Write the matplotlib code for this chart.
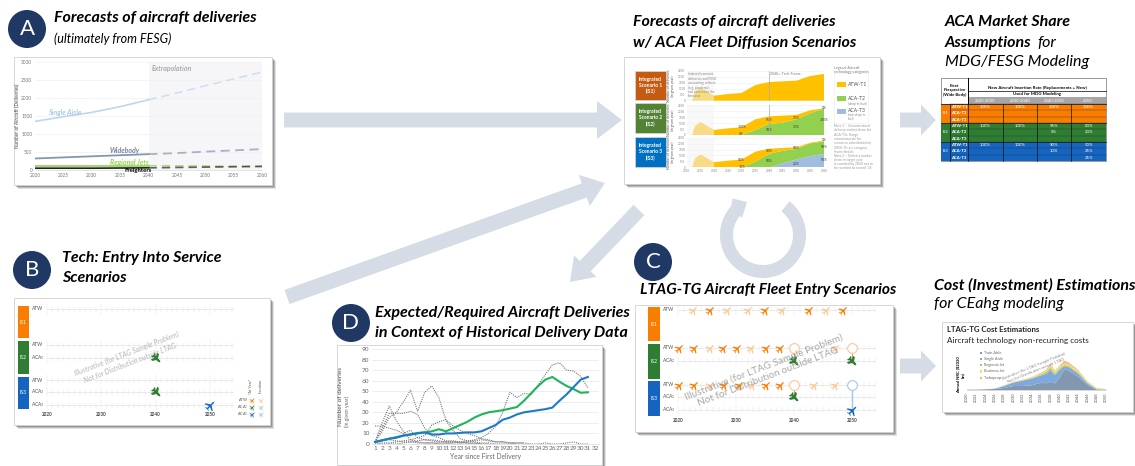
import matplotlib
matplotlib.use("Agg")
import matplotlib.pyplot as plt
from matplotlib.patches import Circle, Polygon, Rectangle, Wedge
from matplotlib.path import Path
import numpy as np

plt.rcParams["font.family"] = ["Lato", "DejaVu Sans"]
plt.rcParams["mathtext.default"] = "regular"

W, H = 1135, 466
NAVY = "#1f3864"
ARROW = "#d6dce5"
ORANGE, GREEN, BLUE = "#f97d00", "#2e7d32", "#1565c0"
LT_ORANGE, LT_GREEN, LT_BLUE = "#fbc896", "#a5d0a7", "#a3c6ee"

# Panel A: delivery forecast
fc_years = [2020, 2025, 2030, 2035, 2040]
ex_years = [2040, 2045, 2050, 2055, 2060]
single_fc = [1350, 1480, 1600, 1760, 1950]
single_ex = [1950, 2140, 2340, 2530, 2720]
wide_fc = [320, 350, 380, 410, 440]
wide_ex = [440, 470, 510, 545, 580]
regional_fc = [120, 120, 120, 120, 120]
regional_ex = [120, 115, 110, 105, 100]
freight_fc = [50, 50, 50, 55, 60]
freight_ex = [60, 70, 80, 90, 100]

# Middle panel: stacked deliveries per scenario
mid_years = [2012, 2013, 2015, 2020, 2025, 2030, 2035, 2040, 2045, 2050, 2055, 2060]
mid_total = [0, 750, 1100, 420, 560, 650, 1320, 1570, 1630, 1690, 2080, 2250]
is2_t2 = [0, 0, 0, 0, 0, 0, 420, 930, 1040, 1320, 1830, 2230]
is3_t2 = [0, 0, 0, 0, 0, 0, 480, 1120, 1400, 1550, 2020, 2190]
is3_t3 = [0, 0, 0, 0, 0, 0, 0, 0, 340, 670, 950, 1120]

# Market share table
table_years = ["2020-2030", "2030-2040", "2040-2050", "2050-"]
table_techs = ["ATW-T1", "ACA-T2", "ACA-T3"]
table_is1 = [["100%", "100%", "100%", "100%"], ["", "", "", ""], ["", "", "", ""]]
table_is2 = [["100%", "100%", "95%", "80%"], ["", "", "5%", "20%"], ["", "", "", ""]]
table_is3 = [["100%", "100%", "90%", "50%"], ["", "", "10%", "25%"], ["", "", "", "25%"]]

# Panel C: aircraft entry years on the ATW rows
is1_dark = [2025.5, 2035, 2042.5, 2048.5]
is1_light = [2022.5, 2028.5, 2032, 2038, 2045.5]
is2_dark = [2020.2, 2022.7, 2027.7, 2030.2, 2035.1, 2037.5]
is2_light = [2025.5, 2032.6, 2047]
is3_dark = [2020.2, 2022.7, 2027.9, 2030.5, 2035.1, 2037.6]
is3_light = [2025.5, 2032.8, 2043.4, 2047]

# Panel D: historical programmes (dotted) and required deliveries
hist_years = list(range(1, 32))
hist_a = [2, 3, 4, 3, 2, 2, 1, 1, 1, 1, 1, 1, 1, 2, 4, 6, 10, 17, 30, 49, 44, 48, 47, 56, 66, 75, 77, 70, 69, 64, 53]
hist_b = [2, 12, 25, 30, 40, 51, 31, 49, 55, 44, 22, 13, 5, 3, 2, 1, 1, 0, 0, 0, 0]
hist_c = [2, 20, 36, 22, 12, 4, 2, 1, 1, 0, 0, 0]
hist_d = [2, 15, 29, 29, 29, 31, 28, 15, 8, 6, 3, 3, 2, 1, 0, 0]
hist_e = [17, 17, 15, 13, 10, 13, 6, 4, 3, 2, 2, 2, 1, 1, 1, 0, 0]
hist_f = [1, 1, 1, 2, 3, 4, 6, 8, 18, 21, 23, 17, 13, 10, 8, 5, 4, 2, 2, 1, 1, 1]
hist_g = [0, 0, 0, 0, 1, 2, 3, 4, 4, 3, 2, 2, 2, 3, 3, 4, 3, 2, 2, 1, 1, 1, 0, 0, 1, 0, 0, 1, 2, 0, 0]
req_green = [2, 3.5, 5, 6.5, 8, 9, 10.5, 11, 12, 14, 12, 15, 18, 21, 25, 28, 30, 31, 32, 33.5, 35, 41, 48, 55, 61, 63.5, 59, 55, 52, 48.5, 49]
req_blue = [2, 3.5, 5, 6, 8, 9, 10, 11, 9, 9, 10, 10, 10.5, 11, 11, 12, 15, 18, 23, 25, 28, 30, 31, 32, 33, 34.5, 41, 47, 54, 61, 63.5]

# Cost panel: stacked non-recurring cost
cost_years = [2020, 2022, 2024, 2026, 2028, 2030, 2032, 2034, 2036, 2037, 2038, 2039, 2040, 2041, 2042, 2044, 2046, 2048, 2050]
cost_twin = [1, 1, 2, 3, 6, 12, 12, 14, 22, 20, 25, 20, 38, 62, 58, 40, 15, 1, 1]
cost_single = [0, 0, 0, 1, 6, 10, 16, 20, 22, 28, 34, 24, 22, 9, 10, 9, 5, 1, 0]
cost_regional = [0, 0, 0, 0, 1, 1, 1, 2, 3, 5, 8, 6, 5, 4, 4, 3, 2, 1, 1]
cost_business = [0, 0, 0, 0, 1, 1, 1, 2, 3, 4, 7, 5, 5, 6, 5, 5, 3, 2, 1]
cost_turboprop = [0, 0, 0, 0, 0, 1, 1, 1, 2, 3, 4, 3, 3, 7, 5, 3, 1, 1, 0]
cost_labels = ["Twin Aisle", "Single Aisle", "Regional Jet", "Business Jet", "Turboprop"]
cost_colors = ["#8497b0", "#7fa9dc", "#9dcc7a", "#ffd966", "#f4b183"]

# Aircraft silhouette pointing along +x, used as a marker
PLANE_OUTLINE = np.array([
    (1, 0), (0.7, 0.13), (0.15, 0.13), (-0.35, 0.9), (-0.58, 0.9), (-0.25, 0.13), (-0.7, 0.13), (-0.9, 0.42),
    (-1, 0.42), (-0.85, 0), (-1, -0.42), (-0.9, -0.42), (-0.7, -0.13), (-0.25, -0.13), (-0.58, -0.9),
    (-0.35, -0.9), (0.15, -0.13), (0.7, -0.13), (1, 0),
])


def plane_marker(deg):
    a = np.deg2rad(deg)
    rot = np.array([[np.cos(a), -np.sin(a)], [np.sin(a), np.cos(a)]])
    return Path(PLANE_OUTLINE @ rot.T, closed=True)


PLANE_UP = plane_marker(45)
PLANE_DOWN = plane_marker(-45)

fig = plt.figure(figsize=(W / 100, H / 100), dpi=100)

# Page-level axes in pixel units, y pointing down
page = fig.add_axes([0, 0, 1, 1])
page.set_xlim(0, W)
page.set_ylim(H, 0)
page.axis("off")


def px_axes(x0, y0, x1, y1):
    ax = fig.add_axes([x0 / W, 1 - y1 / H, (x1 - x0) / W, (y1 - y0) / H], zorder=3)
    ax.patch.set_alpha(0)
    return ax


def card(x0, y0, x1, y1):
    for off, alpha in ((4, 0.18), (3, 0.3), (2, 0.4)):
        page.add_patch(Rectangle((x0 + off, y0 + off), x1 - x0, y1 - y0, fc="#606060", ec="none", alpha=alpha, zorder=1))
    page.add_patch(Rectangle((x0, y0), x1 - x0, y1 - y0, fc="white", ec="#d0d0d0", lw=0.6, zorder=2))


def badge(x, y, letter):
    page.add_patch(Circle((x, y), 19, fc=NAVY, ec="none", zorder=2))
    page.text(x, y, letter, color="white", fontsize=16, ha="center", va="center", zorder=3)


def block_arrow(x0, y0, x1, y1, width, head_width, head_len):
    d = np.array([x1 - x0, y1 - y0], dtype=float)
    length = np.hypot(*d)
    u = d / length
    n = np.array([-u[1], u[0]])
    start = np.array([x0, y0])
    neck = start + u * (length - head_len)
    pts = [start + n * width / 2, neck + n * width / 2, neck + n * head_width / 2, (x1, y1),
           neck - n * head_width / 2, neck - n * width / 2, start - n * width / 2]
    page.add_patch(Polygon(pts, closed=True, fc=ARROW, ec="none", zorder=1))


def title(x, y, txt, bold=True, size=11.5):
    page.text(x, y, txt, fontsize=size, style="italic", fontweight="bold" if bold else "normal",
              color="black", va="center", ha="left", zorder=5)


# Block arrows and the iteration ring
block_arrow(284, 120, 622, 120, 15, 38, 25)
block_arrow(287, 297, 605, 183, 15, 33, 22)
block_arrow(639, 210, 570, 282, 15, 31, 22)
block_arrow(900, 120, 936, 120, 15, 31, 15)
block_arrow(900, 366, 936, 366, 15, 31, 15)
page.add_patch(Wedge((763, 235), 43, -52, 224, width=13, fc=ARROW, ec="none", zorder=1))
page.add_patch(Polygon([(732.5, 198.5), (747, 202), (742, 218), (731, 207)], closed=True, fc=ARROW, ec="none", zorder=1))

# Headings
badge(27, 29, "A")
title(54, 18, "Forecasts of aircraft deliveries")
title(54, 39, "(ultimately from FESG)", bold=False, size=9)
title(633, 22, "Forecasts of aircraft deliveries")
title(633, 43, "w/ ACA Fleet Diffusion Scenarios")
title(945, 22, "ACA Market Share")
title(945, 43, "Assumptions")
title(1037, 43, "for", bold=False)
title(945, 62, "MDG/FESG Modeling", bold=False)
badge(32, 270, "B")
title(62, 258, "Tech: Entry Into Service")
title(62, 278, "Scenarios")
badge(351, 323, "D")
title(375, 313, "Expected/Required Aircraft Deliveries")
title(375, 333, "in Context of Historical Delivery Data")
badge(653, 262, "C")
title(640, 290, "LTAG-TG Aircraft Fleet Entry Scenarios", size=11.2)
title(934, 285, "Cost (Investment) Estimations")
title(934, 304, "for CEahg modeling", bold=False)

card(14, 57, 272, 185)
card(624, 57, 880, 184)
card(14, 298, 270, 425)
card(337, 345, 602, 465)
card(635, 305, 893, 432)
card(942, 322, 1133, 412)

# Panel A chart
ax = px_axes(35, 62, 262, 170)
ax.set_xlim(2020, 2060)
ax.set_ylim(0, 3000)
ax.axvspan(2040, 2060, color="#f6f6f8", lw=0, zorder=0)
ax.grid(axis="y", color="#f0f0f0", lw=0.5)
ax.set_axisbelow(True)
for fc_vals, ex_vals, col, lw in ((single_fc, single_ex, "#bdd7ee", 1.2),
                                  (wide_fc, wide_ex, "#8497b0", 1.3),
                                  (regional_fc, regional_ex, "#92d050", 1.2),
                                  (freight_fc, freight_ex, "#222222", 1.2)):
    ax.plot(fc_years, fc_vals, color=col, lw=lw)
    ax.plot(ex_years, ex_vals, color=col, lw=lw, ls=(0, (5, 3)), alpha=0.7)
ax.set_xticks(range(2020, 2061, 5))
ax.set_yticks(range(0, 3001, 500))
ax.tick_params(length=0, labelsize=3.4, labelcolor="#777777", pad=2)
for s in ax.spines.values():
    s.set_visible(False)
ax.spines["bottom"].set_visible(True)
ax.spines["bottom"].set_color("#d9d9d9")
ax.spines["bottom"].set_linewidth(0.5)
ax.set_ylabel("Number of Aircraft (Deliveries)", fontsize=3.4, color="#444444", labelpad=1)
label_kw = dict(fontsize=5, style="italic", fontweight="bold", va="center")
ax.text(2022.3, 1610, "Single Aisle", color="#a9c9e8", **label_kw)
ax.text(2033.2, 530, "Widebody", color="#7486a3", **label_kw)
ax.text(2033.2, 220, "Regional Jets", color="#92d050", **label_kw)
ax.text(2035.7, -10, "Freighters", color="black", fontsize=4.3, fontweight="bold", va="center")
ax.text(2040.5, 2830, "Extrapolation", color="#aaaaaa", **label_kw)

# Middle panel: scenario boxes and stacked charts
box_spans = [(71, 100), (103, 133), (137, 167)]
box_cols = ["#c55a11", "#548235", "#0070c0"]
for i, (span, col) in enumerate(zip(box_spans, box_cols)):
    page.add_patch(Rectangle((635, span[0]), 31, span[1] - span[0], fc=col, ec="#d9d9d9", lw=0.5, zorder=3))
    page.text(650.5, sum(span) / 2, f"Integrated\nScenario {i + 1}\n(IS{i + 1})", color="white",
              fontsize=3.6, fontweight="bold", ha="center", va="center", zorder=4, linespacing=1.25)

total = np.array(mid_total)
stacks = [
    ([total], ["#ffc000"]),
    ([np.array(is2_t2), total - np.array(is2_t2)], ["#92d050", "#ffc000"]),
    ([np.array(is3_t3), np.array(is3_t2) - np.array(is3_t3), total - np.array(is3_t2)],
     ["#a0bde0", "#92d050", "#ffc000"]),
]
mid_spans = [(71, 100.7), (105.3, 135), (137.7, 167.3)]
pct_labels = [
    [],
    [(2030, 650, "100%"), (2030, 60, "5%"), (2040, 1250, "95%"), (2040, 430, "50%"), (2050, 1470, "75%"), (2050, 650, "75%"), (2060, 2300, "5%"), (2060, 1300, "100%")],
    [(2030, 650, "90%"), (2030, 60, "10%"), (2040, 1350, "90%"), (2040, 500, "50%"), (2050, 1600, "50%"), (2050, 300, "25%"), (2060, 2300, "5%"), (2060, 1700, "50%"), (2060, 600, "50%")],
]
for i, ((layers, cols), span) in enumerate(zip(stacks, mid_spans)):
    ax = px_axes(686.7, span[0], 824, span[1])
    ax.set_xlim(2010, 2060)
    ax.set_ylim(0, 2500)
    ax.stackplot(mid_years, *layers, colors=cols, lw=0, zorder=2)
    ax.axvspan(2010, 2020, color="#f4f4f4", alpha=0.55, lw=0, zorder=3)
    ax.grid(axis="y", color="#eeeeee", lw=0.4)
    ax.set_axisbelow(True)
    ax.set_yticks(range(0, 2501, 500))
    ax.set_xticks(range(2010, 2061, 5))
    ax.tick_params(length=0, labelsize=2.2, labelcolor="#888888", pad=1)
    if i < 2:
        ax.set_xticklabels([])
    for s in ax.spines.values():
        s.set_visible(False)
    ax.set_ylabel("Number of deliveries\n(in given year)", fontsize=2.5, color="#555555", linespacing=1)
    ax.yaxis.set_label_coords(-0.085, 0.5)
    for yr, val, txt in pct_labels[i]:
        ax.text(yr, val, txt, fontsize=2.4, ha="center", va="center", color="#333333", zorder=4)
    if i < 2:
        ax.axvline(2040, color="#aaaaaa", lw=0.5, zorder=4)
    if i == 0:
        ax.text(2040.5, 2400, "2040+: Tech. Freeze", fontsize=2.4, color="#777777", va="top", zorder=4)
        ax.text(2010.5, 2400, "Indexed transient\ndeliveries and FESG\naccounting reflects\n(e.g. pandemic)\nnot covered in the\nforecasts", fontsize=2.3,
                color="#888888", va="top", zorder=4, linespacing=1.15)

# Middle panel legend and notes
page.add_patch(Rectangle((834, 73), 34, 50, fc="white", ec="#f0f0f0", lw=0.5, zorder=3))
page.text(834, 70, "Legend: Aircraft\ntechnology categories", fontsize=2.6, color="#777777", va="center", zorder=4, linespacing=1.1)
for y, col, name, sub in ((84, "#ffc000", "ATW-T1", ""), (98, "#92d050", "ACA-T2", "(drop-in fuel)"),
                          (111, "#a0bde0", "ACA-T3", "(non-drop-in\nfuel)")):
    page.add_patch(Rectangle((837, y - 2.5), 9, 5, fc=col, ec="none", zorder=4))
    page.text(848, y, name, fontsize=3.6, color="#555555", va="center", zorder=4)
    if sub:
        page.text(848, y + 5.5, sub, fontsize=2.3, color="#888888", va="center", zorder=4, linespacing=1)
page.text(834, 139, "Note 1 – Unconstrained\ndelivery market share for\nACA-T3s. Range\ncommensurate for\nscenarios substitution by\n2050. Fit a/c category\nshares/details",
          fontsize=2.4, color="#999999", va="center", zorder=4, linespacing=1.1)
page.text(834, 162, "Note 2 – Delivery market\nshare in target year\nis rounded by 2050 not to\nbe rounded to exceed 1%", fontsize=2.4,
          color="#999999", va="center", zorder=4, linespacing=1.1)

# Market share table, drawn on the page grid
col_x = [941, 950, 968, 1003, 1037, 1071, 1106]
head_y = [78, 90, 97, 104]
row_h = 6.33
page.add_patch(Rectangle((col_x[0], head_y[0]), col_x[-1] - col_x[0], 83, fc="white", ec="#888888", lw=0.6, zorder=2))
page.add_patch(Rectangle((col_x[2], head_y[2]), col_x[-1] - col_x[2], head_y[3] - head_y[2], fc="#a6a6a6", ec="none", zorder=3))
page.plot([col_x[2], col_x[-1]], [head_y[1] + 1, head_y[1] + 1], color="black", lw=0.5, zorder=4)
page.plot([col_x[2], col_x[2]], [head_y[0], head_y[3]], color="black", lw=0.7, zorder=4)
page.text((col_x[0] + col_x[2]) / 2, 90.5, "Fleet\nPerspective\n(Wide Body)", fontsize=3.1, fontweight="bold", ha="center", va="center", zorder=4, linespacing=1.3)
page.text((col_x[2] + col_x[-1]) / 2, 88, "New Aircraft Insertion Rate (Replacements + New)", fontsize=3.2, fontweight="bold", ha="center", va="center", zorder=4)
page.text((col_x[2] + col_x[-1]) / 2, 94.5, "Used for MDG Modeling", fontsize=3.2, fontweight="bold", ha="center", va="center", zorder=4)
for j, yr in enumerate(table_years):
    page.text((col_x[j + 2] + col_x[j + 3]) / 2, 100.5, yr, fontsize=3, color="white", ha="center", va="center", zorder=4)
for k, (rows, col, name) in enumerate(((table_is1, ORANGE, "IS1"), (table_is2, GREEN, "IS2"), (table_is3, BLUE, "IS3"))):
    top = head_y[3] + 3 * row_h * k
    page.add_patch(Rectangle((col_x[0], top), col_x[-1] - col_x[0], 3 * row_h, fc=col, ec="none", zorder=3))
    page.text((col_x[0] + col_x[1]) / 2, top + 1.5 * row_h, name, fontsize=3, color="white", ha="center", va="center", zorder=4)
    for r in range(3):
        y = top + row_h * (r + 0.5)
        page.text((col_x[1] + col_x[2]) / 2, y, table_techs[r], fontsize=3.1, color="white", fontweight="bold", ha="center", va="center", zorder=4)
        for j, val in enumerate(rows[r]):
            page.text((col_x[j + 2] + col_x[j + 3]) / 2, y, val, fontsize=3.1, color="white", ha="center", va="center", zorder=4)
        page.plot([col_x[1], col_x[-1]], [top + row_h * r] * 2, color="#222222", lw=0.35, alpha=0.6, zorder=4)
    page.plot([col_x[0], col_x[-1]], [top, top], color="#222222", lw=0.6, zorder=4)
for x in col_x[1:-1]:
    page.plot([x, x], [head_y[3], 161], color="#111111", lw=0.5, zorder=4)


def plane(ax, yr, y, col, size=7.5, shape=PLANE_UP, edge=0.0):
    ax.plot(yr, y, marker=shape, ms=size, mfc=col, mec=col, mew=edge, ls="none", zorder=5)


def timeline_axes(x2020, x2050, x_right, y0, y1, rows, labels):
    per_year = (x2050 - x2020) / 30
    x0 = x2020 - 6
    ax = px_axes(x0, y0, x_right, y1)
    ax.set_xlim(2020 - 6 / per_year, 2020 + (x_right - x2020) / per_year)
    ax.set_ylim(y1, y0)
    ax.axis("off")
    for y, lab in zip(rows, labels):
        ax.plot([2020, ax.get_xlim()[1]], [y, y], color="#e3e3e3", lw=0.5, zorder=1)
        for yr in np.arange(2020, ax.get_xlim()[1], 1):
            tall = 5 if yr % 10 == 0 else 2.5
            ax.plot([yr, yr], [y - tall, y + tall], color="#e3e3e3", lw=0.35, zorder=1)
        ax.text(2020 - 9 / per_year, y, lab, fontsize=3.5, color="#555555", va="center", ha="center")
    for yr in (2020, 2030, 2040, 2050):
        ax.text(yr, y1 - 5, str(yr), fontsize=3.3, fontweight="bold", color="#444444", ha="center", va="center")
    return ax


def scenario_bars(x0, x1, spans):
    for span, col, name in zip(spans, (ORANGE, GREEN, BLUE), ("IS1", "IS2", "IS3")):
        page.add_patch(Rectangle((x0, span[0]), x1 - x0, span[1] - span[0], fc=col, ec="none", zorder=3))
        page.text((x0 + x1) / 2, sum(span) / 2, name, fontsize=3.6, color="white", ha="center", va="center", zorder=4)


# Panel B timeline
scenario_bars(18, 29, [(306, 338), (341, 374), (377, 409)])
b_rows = [309, 345, 358, 380, 392, 405]
b_labels = ["ATW", "ATW", "ACA$_2$", "ATW", "ACA$_2$", "ACA$_3$"]
ax = timeline_axes(47, 210, 234, 300, 420, b_rows, b_labels)
plane(ax, 2040, b_rows[2], GREEN, size=7, shape=PLANE_DOWN, edge=0.8)
plane(ax, 2040, b_rows[4], GREEN, size=7, shape=PLANE_DOWN, edge=0.8)
plane(ax, 2050, b_rows[5], BLUE, size=8.5)
ax.text(2035, 358, "Illustrative (for LTAG Sample Problem)\nNot for Distribution outside LTAG", fontsize=5,
        color="#b5b5b5", rotation=21, ha="center", va="center", style="italic", linespacing=1.3)

# Panel B key
page.text(250.5, 386, "\"At Year\"", fontsize=2.7, color="#555555", rotation=90, ha="center", va="center", zorder=4)
page.text(261, 386, "Iteration", fontsize=2.7, color="#555555", rotation=90, ha="center", va="center", zorder=4)
key_y = [400, 407, 414]
for y, lab, dark, light in zip(key_y, ("ATW", "ACA$_2$", "ACA$_3$"), (ORANGE, GREEN, BLUE), (LT_ORANGE, LT_GREEN, LT_BLUE)):
    page.text(243, y, lab, fontsize=2.8, color="#555555", ha="center", va="center", zorder=4)
    for x, col in ((251.5, dark), (260.5, light)):
        plane(page, x, y, col, size=4.5)

# Panel C timeline
scenario_bars(648, 660, [(307, 341), (344, 379), (381, 416)])
c_rows = [310, 348, 361, 385, 397, 410]
ax = timeline_axes(678, 852, 876, 305, 426, c_rows, b_labels)
for yrs, col in ((is1_dark, ORANGE), (is1_light, LT_ORANGE)):
    for yr in yrs:
        plane(ax, yr, c_rows[0], col)
for yrs, col in ((is2_dark, ORANGE), (is2_light, LT_ORANGE)):
    for yr in yrs:
        plane(ax, yr, c_rows[1], col)
for yrs, col in ((is3_dark, ORANGE), (is3_light, LT_ORANGE)):
    for yr in yrs:
        plane(ax, yr, c_rows[3], col)
for row, yr, col in ((c_rows[1], 2040, LT_ORANGE), (c_rows[1], 2050, LT_ORANGE), (c_rows[3], 2040, LT_ORANGE), (c_rows[3], 2050, LT_BLUE)):
    ax.plot(yr, row, "o", ms=7, mfc="white", mec=col, mew=0.8, zorder=4)
for row_top, row_low, yr in ((c_rows[1], c_rows[2], 2040), (c_rows[1], c_rows[2], 2050), (c_rows[3], c_rows[4], 2040)):
    ax.plot([yr, yr], [row_top + 5, row_low - 3], color="#e58b5a", lw=0.7, zorder=3)
    plane(ax, yr, row_low, GREEN, size=7, shape=PLANE_DOWN, edge=0.8)
ax.plot([2050, 2050], [c_rows[3] + 5, c_rows[5]], color=LT_BLUE, lw=1, zorder=3)
plane(ax, 2050, c_rows[5], BLUE, size=8.5)
ax.text(2035.2, 372, "Illustrative (for LTAG Sample Problem)\nNot for Distribution outside LTAG", fontsize=7.2,
        color="#8c8c8c", alpha=0.75, rotation=21, ha="center", va="center", zorder=6, linespacing=1.2)

# Panel D chart
ax = px_axes(371.5, 349, 598.5, 444)
ax.set_xlim(0.5, 32.5)
ax.set_ylim(0, 90)
ax.grid(axis="y", color="#e8e8e8", lw=0.5)
ax.set_axisbelow(True)
for series in (hist_a, hist_b, hist_c, hist_d, hist_e, hist_f, hist_g):
    ax.plot(hist_years[:len(series)], series, color="#777777", lw=0.8, ls=(0, (1, 1)))
ax.plot(hist_years, req_green, color="#1fb35a", lw=1.5)
ax.plot(hist_years, req_blue, color="#1f78c8", lw=1.5)
ax.set_xticks(range(1, 33))
ax.set_yticks(range(0, 91, 10))
ax.tick_params(length=0, labelsize=4.6, labelcolor="#666666", pad=1.5)
for s in ax.spines.values():
    s.set_visible(False)
ax.spines["bottom"].set_visible(True)
ax.spines["bottom"].set_color("#d9d9d9")
ax.spines["bottom"].set_linewidth(0.5)
ax.set_xlabel("Year since First Delivery", fontsize=4.8, color="#666666", labelpad=1.5)
ax.set_ylabel("Number of deliveries", fontsize=4.6, color="#444444")
ax.yaxis.set_label_coords(-0.125, 0.5)
ax.text(-2.95, 31, "(in given year)", fontsize=3.6, color="#666666", rotation=90, ha="center", va="center", clip_on=False)

# Cost panel
page.text(947, 329, "LTAG-TG Cost Estimations", fontsize=5.6, fontweight="bold", color="#222222", va="center", zorder=4)
page.text(947, 340, "Aircraft technology non-recurring costs", fontsize=5.9, color="#222222", va="center", zorder=4)
ax = px_axes(967, 350, 1106, 390)
ax.set_xlim(2020, 2050)
ax.set_ylim(0, 120)
ax.stackplot(cost_years, cost_twin, cost_single, cost_regional, cost_business, cost_turboprop, colors=cost_colors, lw=0)
ax.set_xticks(range(2020, 2051, 2))
ax.set_xticklabels([str(y) for y in range(2020, 2051, 2)], rotation=90)
ax.set_yticks([])
ax.tick_params(length=0, labelsize=3, labelcolor="#555555", pad=1.5)
for s in ax.spines.values():
    s.set_visible(False)
ax.spines["bottom"].set_visible(True)
ax.spines["bottom"].set_color("#bbbbbb")
ax.spines["bottom"].set_linewidth(0.4)
page.text(960.5, 375, "Annual NRC ($2020\nbn)", fontsize=3, fontweight="bold", rotation=90, ha="center", va="center", zorder=4, linespacing=1.1)
for i, (lab, col) in enumerate(zip(cost_labels, cost_colors)):
    y = 352.5 + 6.3 * i
    page.add_patch(Rectangle((980, y - 1), 2.2, 2.2, fc=col, ec="none", zorder=4))
    page.text(983.5, y, lab, fontsize=2.8, color="#666666", va="center", zorder=4)
ax.text(2034.7, 65, "Illustrative (for LTAG Sample Problem)\nNot for Distribution outside LTAG", fontsize=3,
        color="#8c8c8c", rotation=22, ha="center", va="center", zorder=6, linespacing=1.2, clip_on=False)

fig.savefig("out.png", dpi=100)
